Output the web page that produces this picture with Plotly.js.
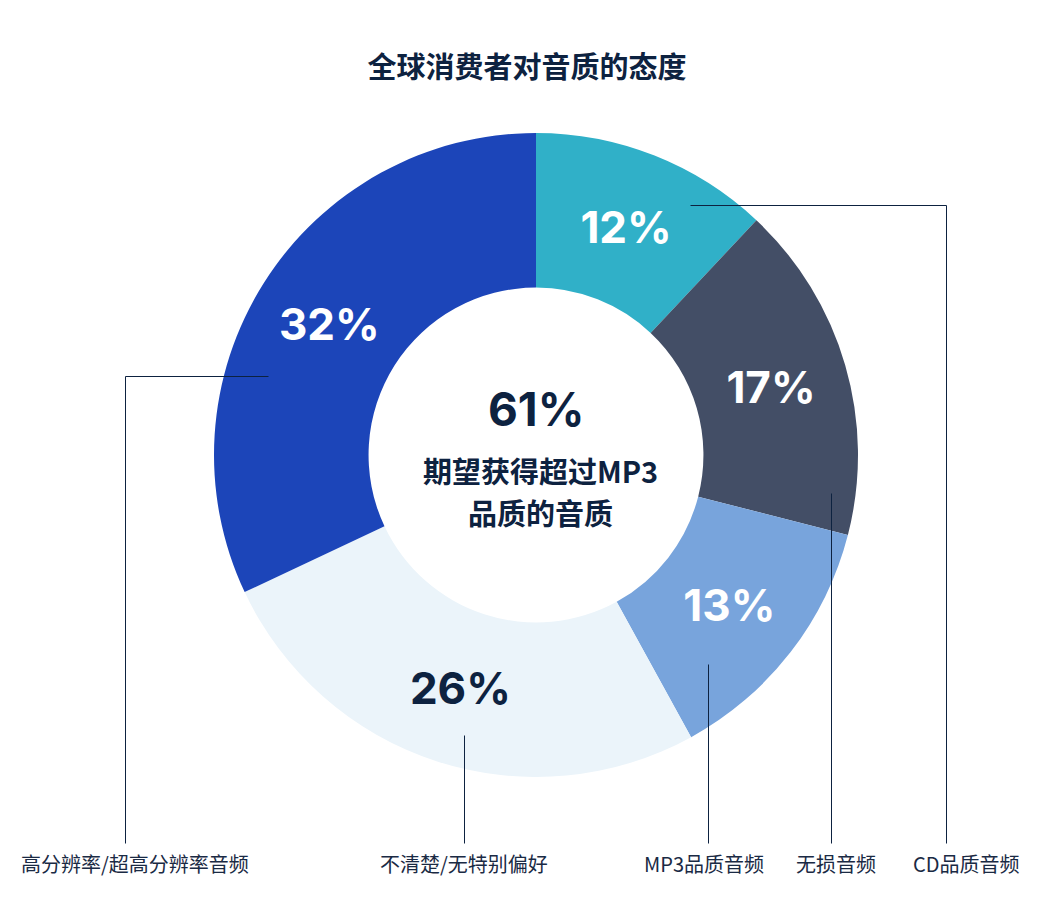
<!DOCTYPE html>
<html>
<head>
<meta charset="utf-8">
<script src="https://cdn.plot.ly/plotly-3.0.1.min.js"></script>
<style>
  html, body { margin: 0; padding: 0; background: #fff; }
  #chart { width: 1048px; height: 900px; }
</style>
</head>
<body>
<div id="chart"></div>
<script>
// Donut: attitude of consumers towards audio quality
const categories = ['CD品质音频', '无损音频', 'MP3品质音频', '不清楚/无特别偏好', '高分辨率/超高分辨率音频'];
const shares = [12, 17, 13, 26, 32];
const sliceColors = ['#30b0c8', '#434e66', '#78a4dc', '#ebf4fa', '#1c45b9'];
const labelColors = ['#ffffff', '#ffffff', '#ffffff', '#0d2240', '#ffffff'];
const centerValue = '61%';
const centerLines = ['期望获得超过MP3', '品质的音质'];

// bottom captions, in the order they sit left->right, with leader line paths (px)
const captionOrder = [4, 3, 2, 1, 0];
const captionX = [135, 464, 704, 836, 966];
const leaderX = [125, 464, 708, 831, 946];
const leaderTopY = [376, 735, 664, 493, 205];
const leaderEndX = [268, null, null, null, 690];

const W = 1048, H = 900;
const px = x => x / W;
const py = y => 1 - y / H;
// half-pixel offset keeps 1px lines crisp
const lx = x => px(x + 0.5);
const ly = y => py(y + 0.5);

const NAVY = '#0d2240';
const CJK = '"Noto Sans CJK SC", "Noto Sans", sans-serif';
const NUM = 'Inter, "Noto Sans", sans-serif';

const cx = 536, cy = 455, R = 322;

const trace = {
    type: 'pie',
    labels: categories,
    values: shares,
    sort: false,
    direction: 'clockwise',
    rotation: 0,
    hole: 0.52,
    marker: { colors: sliceColors, line: { width: 0 } },
    texttemplate: '%{value}%',
    textposition: 'inside',
    insidetextorientation: 'horizontal',
    insidetextfont: { family: NUM, size: 44, weight: 700, color: labelColors },
    hoverinfo: 'label+value',
    showlegend: false,
    domain: { x: [px(cx - R), px(cx + R)], y: [py(cy + R), py(cy - R)] },
};

const shapes = captionOrder.map((_, i) => {
    let path = `M${lx(leaderX[i])},${ly(843)} L${lx(leaderX[i])},${ly(leaderTopY[i])}`;
    if (leaderEndX[i] !== null) path += ` L${lx(leaderEndX[i])},${ly(leaderTopY[i])}`;
    return { type: 'path', xref: 'paper', yref: 'paper', path, line: { color: NAVY, width: 1 } };
});

const annotations = [
    { text: centerValue, x: px(cx), y: py(409), xref: 'paper', yref: 'paper', showarrow: false,
      xanchor: 'center', yanchor: 'middle',
      font: { family: NUM, size: 46, weight: 700, color: NAVY } },
    ...centerLines.map((t, i) => ({
        text: t, x: px(cx + 4), y: py(470 + i * 42), xref: 'paper', yref: 'paper', showarrow: false,
        xanchor: 'center', yanchor: 'middle',
        font: { family: CJK, size: 29, weight: 700, color: NAVY },
    })),
    ...captionOrder.map((ci, i) => ({
        text: categories[ci], x: px(captionX[i]), y: py(863), xref: 'paper', yref: 'paper',
        xanchor: 'center', yanchor: 'middle',
        showarrow: false, font: { family: CJK, size: 20, color: '#1a2a44' },
    })),
];

const layout = {
    width: W, height: H,
    margin: { l: 0, r: 0, t: 0, b: 0 },
    paper_bgcolor: '#ffffff',
    title: {
        text: '全球消费者对音质的态度',
        x: px(527), y: py(68), xanchor: 'center', yanchor: 'middle',
        font: { family: CJK, size: 29, weight: 700, color: NAVY },
    },
    shapes,
    annotations,
};

Plotly.newPlot('chart', [trace], layout, { displayModeBar: false, staticPlot: true });
</script>
</body>
</html>
